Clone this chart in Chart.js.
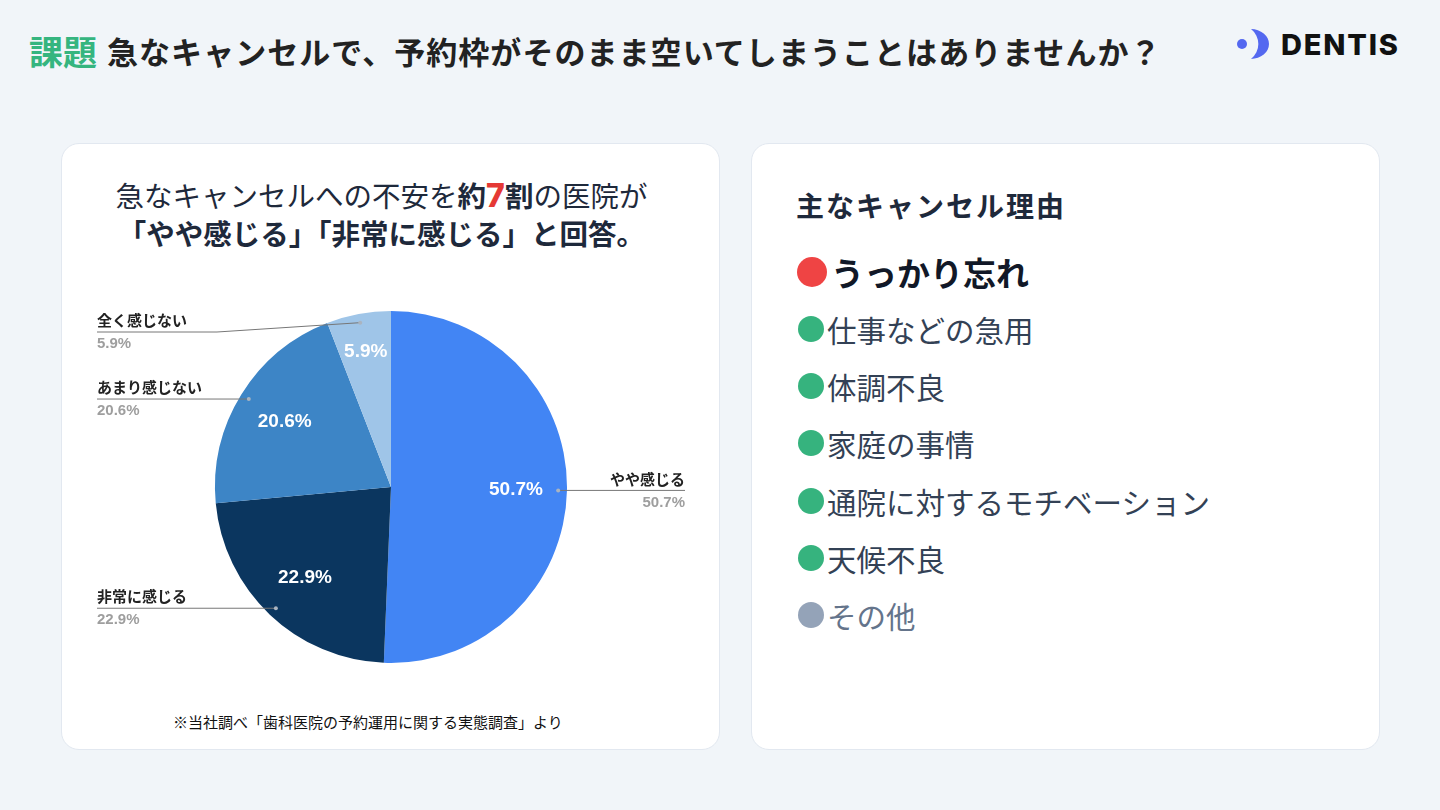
<!DOCTYPE html>
<html lang="ja">
<head>
<meta charset="utf-8">
<script src="https://cdn.jsdelivr.net/npm/chart.js@4.4.1/dist/chart.umd.min.js"></script>
<style>
  * { box-sizing: border-box; margin: 0; padding: 0; }
  body {
    width: 1440px; height: 810px; overflow: hidden; position: relative;
    background: #f1f5f9;
    font-family: 'Noto Sans CJK JP', 'Noto Sans', sans-serif;
    color: #1f2937;
  }
  .title { position: absolute; left: 29px; top: 28px; height: 44px; display: flex; align-items: center; white-space: nowrap; }
  .title .tag { color: #35b57f; font-weight: 700; font-size: 34px; margin-right: 10px; }
  .title .main { color: #222; font-weight: 700; font-size: 31px; letter-spacing: 1.05px; }
  .logo { position: absolute; left: 1236px; top: 26px; height: 36px; display: flex; align-items: center; }
  .logo span { font-family: Inter, Roboto, sans-serif; font-weight: 800; font-size: 29px; letter-spacing: 1.8px; color: #111; margin-left: 11px; }
  .card { position: absolute; top: 143px; height: 607px; background: #fff; border: 1px solid #e2e8f0; border-radius: 18px; }
  #left { left: 61px; width: 659px; }
  #right { left: 751px; width: 629px; }
  .head { position: absolute; left: 0; width: 100%; text-align: center; padding-right: 18px; font-size: 28.5px; line-height: 38px; color: #1e293b; }
  .head b { font-weight: 700; }
  .head .red { color: #e53935; font-family: Inter, 'Liberation Sans', sans-serif; font-size: 32px; font-weight: 800; }
  #chartBox { position: absolute; left: 0; top: 156px; width: 658px; height: 374px; }
  .note { position: absolute; left: 111px; top: 567px; font-size: 15px; color: #111; white-space: nowrap; }
  .rhead { position: absolute; left: 44px; top: 41px; font-size: 28px; font-weight: 700; letter-spacing: 2px; line-height: 40px; color: #1e293b; }
  .row { position: absolute; left: 45px; display: flex; align-items: center; white-space: nowrap; }
  .dot { border-radius: 50%; flex: none; }
</style>
</head>
<body>

<div class="title"><span class="tag">課題</span><span class="main">急なキャンセルで、予約枠がそのまま空いてしまうことはありませんか？</span></div>

<div class="logo">
  <svg width="34" height="36" viewBox="0 0 34 36">
    <circle cx="6" cy="18" r="5" fill="#5468f0"/>
    <path d="M15,3 A18,15 0 0 1 15,33 A19,19 0 0 0 15,3 Z" fill="#5468f0"/>
  </svg>
  <span>DENTIS</span>
</div>

<div class="card" id="left">
  <div class="head" style="top: 32px;">急なキャンセルへの不安を<b>約<span class="red">7</span>割</b>の医院が</div>
  <div class="head" style="top: 70px;"><b>「やや感じる」「非常に感じる」と回答。</b></div>
  <div id="chartBox"><canvas id="chart"></canvas></div>
  <div class="note">※当社調べ「歯科医院の予約運用に関する実態調査」より</div>
</div>

<div class="card" id="right">
  <div class="rhead">主なキャンセル理由</div>
</div>

<script>
// pie data
const labels = ['やや感じる', '非常に感じる', 'あまり感じない', '全く感じない']
const values = [50.7, 22.9, 20.6, 5.9]
const colors = ['#4285f4', '#0b365f', '#3d85c6', '#9fc5e8']

// cancel reasons list (right card)
const reasons = ['うっかり忘れ', '仕事などの急用', '体調不良', '家庭の事情', '通院に対するモチベーション', '天候不良', 'その他']
const reasonKinds = ['top', 'main', 'main', 'main', 'main', 'main', 'other']

// build the list
let right = document.getElementById('right')
reasons.forEach((r, i) => {
    let row = document.createElement('div')
    row.className = 'row'
    let dot = document.createElement('span')
    dot.className = 'dot'
    let txt = document.createElement('span')
    txt.textContent = r
    if (reasonKinds[i] === 'top') {
        row.style.top = '106px'
        row.style.height = '44px'
        dot.style.width = dot.style.height = '30px'
        dot.style.background = '#ef4444'
        txt.style.cssText = 'font-size:33px;font-weight:700;color:#111827;margin-left:4px;'
    } else {
        row.style.top = (157 + (i - 1) * 57.2) + 'px'
        row.style.height = '56px'
        dot.style.width = dot.style.height = '26px'
        dot.style.marginLeft = '1px'
        dot.style.background = reasonKinds[i] === 'other' ? '#94a3b8' : '#36b37e'
        txt.style.cssText = 'font-size:29.5px;font-weight:400;margin-left:3px;color:' +
            (reasonKinds[i] === 'other' ? '#64748b' : '#334155') + ';'
    }
    row.appendChild(dot)
    row.appendChild(txt)
    right.appendChild(row)
})

const pct = (v) => v.toFixed(1) + '%'

// percentage labels inside and callouts outside the pie
const sliceLabels = {
    id: 'sliceLabels',
    afterDatasetsDraw(chart) {
        const ctx = chart.ctx
        const area = chart.chartArea
        const arcs = chart.getDatasetMeta(0).data
        arcs.forEach((arc, i) => {
            const p = arc.getProps(['x', 'y', 'startAngle', 'endAngle', 'outerRadius'], true)
            const mid = (p.startAngle + p.endAngle) / 2
            const cos = Math.cos(mid), sin = Math.sin(mid)
            const R = p.outerRadius
            ctx.save()

            // inside
            const rIn = values[i] < 10 ? 0.78 : 0.71
            ctx.fillStyle = '#fff'
            ctx.font = 'bold 19px "Liberation Sans", Arial, sans-serif'
            ctx.textAlign = 'center'
            ctx.textBaseline = 'middle'
            ctx.fillText(pct(values[i]), p.x + cos * R * rIn, p.y + sin * R * rIn)

            // outside callout
            const dx = p.x + cos * R * 0.95
            const dy = p.y + sin * R * 0.95
            const onRight = cos > 0
            const lineY = Math.max(dy, area.top + 21)
            const endX = onRight ? area.right : area.left
            ctx.strokeStyle = '#777'
            ctx.lineWidth = 1
            ctx.beginPath()
            ctx.moveTo(endX, lineY)
            if (lineY !== dy) {
                ctx.lineTo(endX + (onRight ? -120 : 120), lineY)
            }
            ctx.lineTo(dx, dy)
            ctx.stroke()
            ctx.fillStyle = '#aab4c0'
            ctx.beginPath()
            ctx.arc(dx, dy, 2, 0, Math.PI * 2)
            ctx.fill()

            ctx.textAlign = onRight ? 'right' : 'left'
            ctx.fillStyle = '#222'
            ctx.font = 'bold 15px "Liberation Sans", "Noto Sans CJK JP", sans-serif'
            ctx.fillText(labels[i], endX, lineY - 10)
            ctx.fillStyle = '#9e9e9e'
            ctx.fillText(pct(values[i]), endX, lineY + 12)
            ctx.restore()
        })
    }
}

const myChart = new Chart(document.getElementById('chart'), {
    type: 'pie',
    data: {
        labels: labels,
        datasets: [{
            data: values,
            backgroundColor: colors,
            borderWidth: 0
        }]
    },
    options: {
        responsive: true,
        maintainAspectRatio: false,
        animation: false,
        layout: { padding: { top: 11, bottom: 11, left: 35, right: 35 } },
        plugins: {
            legend: { display: false },
            tooltip: { enabled: false }
        }
    },
    plugins: [sliceLabels]
})
</script>
</body>
</html>
